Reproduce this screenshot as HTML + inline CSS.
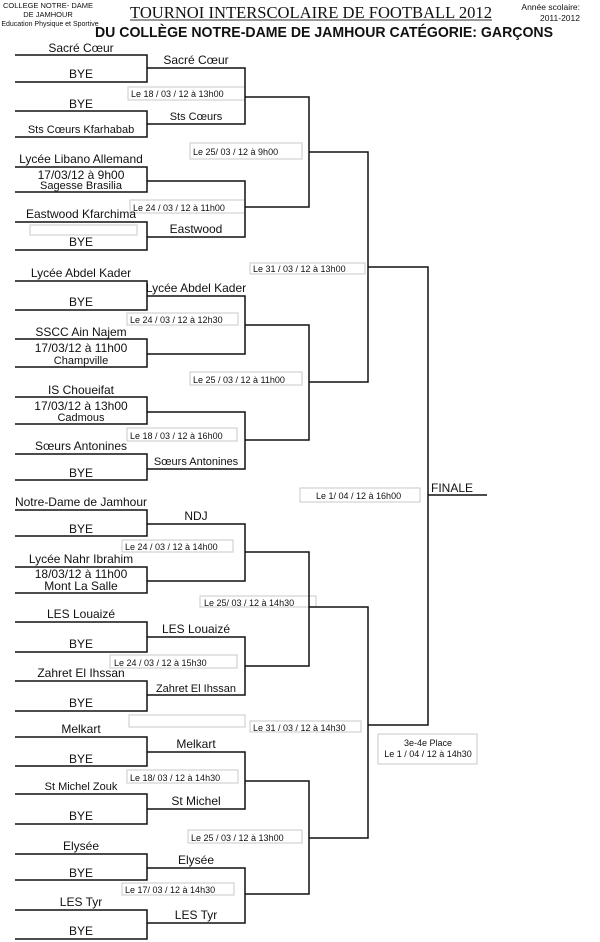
<!DOCTYPE html>
<html><head><meta charset="utf-8"><style>
html,body{margin:0;padding:0;background:#fff;}
svg{display:block;}
text{font-family:"Liberation Sans",sans-serif;fill:#111;}
.n{font-size:12px;text-anchor:middle;}
.s{font-size:11px;text-anchor:middle;}
.d{font-size:9px;}
.b{fill:#fff;stroke:#c8c8c8;stroke-width:1;}
.l{stroke:#111;stroke-width:1.5;fill:none;}
</style></head><body>
<svg width="600" height="942" viewBox="0 0 600 942" xmlns="http://www.w3.org/2000/svg">
<text x="48" y="8" style="font-size:7.5px;text-anchor:middle">COLLEGE NOTRE- DAME</text>
<text x="48" y="17" style="font-size:7.5px;text-anchor:middle">DE JAMHOUR</text>
<text x="50" y="26" style="font-size:7px;text-anchor:middle">Education Physique et Sportive</text>
<text x="130" y="18" textLength="362" lengthAdjust="spacingAndGlyphs" style="font-family:'Liberation Serif',serif;font-size:17px;">TOURNOI  INTERSCOLAIRE DE FOOTBALL 2012</text>
<line x1="130" y1="20" x2="492" y2="20" stroke="#333" stroke-width="1"/>
<text x="95" y="37" textLength="458" lengthAdjust="spacingAndGlyphs" style="font-size:15px;font-weight:bold;">DU COLLÈGE NOTRE-DAME DE JAMHOUR CATÉGORIE: GARÇONS</text>
<text x="580" y="10" style="font-size:8.5px;text-anchor:end">Année scolaire:</text>
<text x="580" y="21" style="font-size:8.5px;text-anchor:end">2011-2012</text>

<rect class="b" x="128" y="87" width="117" height="13"/><text class="d" x="131" y="97">Le 18 / 03 / 12 à 13h00</text>
<rect class="b" x="190" y="143" width="112" height="16"/><text class="d" x="193" y="155">Le 25/ 03 / 12 à  9h00</text>
<rect class="b" x="130" y="200" width="115" height="13"/><text class="d" x="133" y="211">Le 24 / 03 / 12 à 11h00</text>
<rect class="b" x="30" y="225" width="107" height="10"/>
<rect class="b" x="250" y="263" width="115" height="11"/><text class="d" x="253" y="272">Le 31 / 03 / 12 à 13h00</text>
<rect class="b" x="127" y="313" width="111" height="12"/><text class="d" x="130" y="323">Le 24 / 03 / 12 à 12h30</text>
<rect class="b" x="190" y="372" width="112" height="13"/><text class="d" x="193" y="383">Le 25 / 03 / 12 à 11h00</text>
<rect class="b" x="127" y="428" width="110" height="13"/><text class="d" x="130" y="439">Le 18 / 03 / 12 à 16h00</text>
<rect class="b" x="300" y="488" width="120" height="14"/><text class="d" x="316" y="499">Le 1/ 04 / 12 à 16h00</text>
<rect class="b" x="122" y="540" width="111" height="12"/><text class="d" x="125" y="550">Le 24 / 03 / 12 à 14h00</text>
<rect class="b" x="200" y="596" width="116" height="11"/><text class="d" x="204" y="606">Le 25/ 03 / 12 à 14h30</text>
<rect class="b" x="110" y="655" width="127" height="13"/><text class="d" x="114" y="666">Le 24 / 03 / 12 à 15h30</text>
<rect class="b" x="129" y="715" width="116" height="12"/>
<rect class="b" x="250" y="721" width="111" height="11"/><text class="d" x="253" y="731">Le 31 / 03 / 12 à 14h30</text>
<rect class="b" x="378" y="734" width="99" height="30"/>
<text x="428" y="746" style="font-size:9px;text-anchor:middle">3e-4e Place</text>
<text x="428" y="757" style="font-size:9px;text-anchor:middle">Le 1 / 04 / 12 à 14h30</text>
<rect class="b" x="127" y="770" width="111" height="13"/><text class="d" x="130" y="781">Le 18/ 03 / 12 à 14h30</text>
<rect class="b" x="188" y="830" width="114" height="13"/><text class="d" x="191" y="841">Le 25 / 03 / 12 à 13h00</text>
<rect class="b" x="122" y="883" width="112" height="12"/><text class="d" x="125" y="893">Le 17/ 03 / 12 à 14h30</text>

<path class="l" d="
M15 55H147V82H15
M15 111H147V137H15
M15 167H147V192H15
M15 222H147V250H15
M15 281H147V310H15
M15 339H147V367H15
M15 397H147V424H15
M15 454H147V480H15
M15 510H147V536H15
M15 567H147V593H15
M15 622H147V652H15
M15 681H147V711H15
M15 737H147V766H15
M15 794H147V824H15
M15 854H147V880H15
M15 910H147V939H15"/>
<path class="l" d="
M147 68H245V124H147
M147 181H245V237H147
M147 296H245V354H147
M147 412H245V469H147
M147 524H245V581H147
M147 637H245V695H147
M147 752H245V809H147
M147 868H245V923H147"/>
<path class="l" d="
M245 97H309V207H245
M245 325H309V440H245
M245 552H309V666H245
M245 781H309V894H245"/>
<path class="l" d="
M309 152H368V382H309
M309 607H368V838H309"/>
<path class="l" d="M368 267H428V725H368 M428 495H487"/>
<text x="431" y="492" style="font-size:12px">FINALE</text>

<text class="n" x="81" y="52">Sacré Cœur</text><text class="n" x="81" y="78">BYE</text>
<text class="n" x="196" y="64">Sacré Cœur</text>
<text class="n" x="81" y="108">BYE</text><text class="s" x="81" y="133">Sts Cœurs Kfarhabab</text>
<text class="s" x="196" y="120">Sts Cœurs</text>
<text class="n" x="81" y="163">Lycée Libano Allemand</text>
<text class="n" x="81" y="179">17/03/12 à 9h00</text>
<text class="s" x="81" y="189">Sagesse Brasilia</text>
<text class="n" x="81" y="218">Eastwood Kfarchima</text><text class="n" x="81" y="246">BYE</text>
<text class="n" x="196" y="233">Eastwood</text>
<text class="n" x="81" y="277">Lycée Abdel Kader</text><text class="n" x="81" y="306">BYE</text>
<text class="n" x="196" y="292">Lycée Abdel Kader</text>
<text class="n" x="81" y="336">SSCC Ain Najem</text>
<text class="n" x="81" y="352">17/03/12 à 11h00</text>
<text class="s" x="81" y="364">Champville</text>
<text class="n" x="81" y="394">IS Choueifat</text>
<text class="n" x="81" y="410">17/03/12 à 13h00</text>
<text class="s" x="81" y="421">Cadmous</text>
<text class="n" x="81" y="450">Sœurs Antonines</text><text class="n" x="81" y="477">BYE</text>
<text class="s" x="196" y="465">Sœurs Antonines</text>
<text class="n" x="81" y="506">Notre-Dame de Jamhour</text><text class="n" x="81" y="533">BYE</text>
<text class="n" x="196" y="520">NDJ</text>
<text class="n" x="81" y="563">Lycée Nahr Ibrahim</text>
<text class="n" x="81" y="578">18/03/12 à 11h00</text>
<text class="n" x="81" y="590">Mont La Salle</text>
<text class="n" x="81" y="618">LES Louaizé</text><text class="n" x="81" y="648">BYE</text>
<text class="n" x="196" y="633">LES Louaizé</text>
<text class="n" x="81" y="677">Zahret El Ihssan</text><text class="n" x="81" y="707">BYE</text>
<text class="s" x="196" y="692">Zahret El Ihssan</text>
<text class="n" x="81" y="733">Melkart</text><text class="n" x="81" y="763">BYE</text>
<text class="n" x="196" y="748">Melkart</text>
<text class="s" x="81" y="790">St Michel Zouk</text><text class="n" x="81" y="820">BYE</text>
<text class="n" x="196" y="805">St Michel</text>
<text class="n" x="81" y="850">Elysée</text><text class="n" x="81" y="877">BYE</text>
<text class="n" x="196" y="864">Elysée</text>
<text class="n" x="81" y="906">LES Tyr</text><text class="n" x="81" y="935">BYE</text>
<text class="n" x="196" y="919">LES Tyr</text>
</svg>
</body></html>
